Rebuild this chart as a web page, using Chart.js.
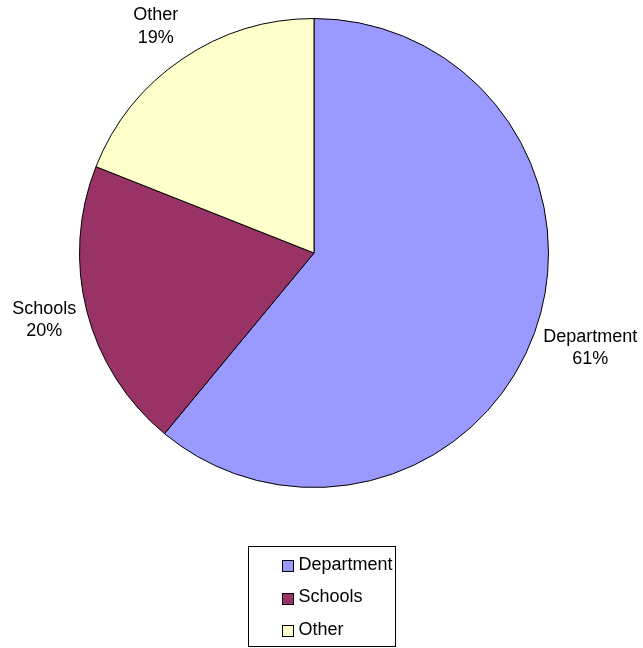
<!DOCTYPE html>
<html>
<head>
<meta charset="utf-8">
<script src="https://cdn.jsdelivr.net/npm/chart.js@4/dist/chart.umd.min.js"></script>
<style>
  html, body { margin: 0; padding: 0; background: #ffffff; }
  #wrap { width: 643px; height: 648px; }
</style>
</head>
<body>
<div id="wrap"><canvas id="c" width="643" height="648"></canvas></div>
<script>
// Share of funding by source (percent)
const categories = ['Department', 'Schools', 'Other'];
const shares = [61, 20, 19];
const sliceColors = ['#9999FF', '#993366', '#FFFFCC'];

const FONT = '"Liberation Sans", Arial, Helvetica, sans-serif';

// Small per-label nudges (px) applied after the radial placement
const labelNudge = [[0, 4], [0, 0], [-7, -4]];

// Category name + percentage drawn just outside each slice
const outsideLabels = {
  id: 'outsideLabels',
  afterDatasetsDraw(chart) {
    const ctx = chart.ctx;
    const meta = chart.getDatasetMeta(0);
    const total = shares.reduce((a, b) => a + b, 0);
    ctx.save();
    ctx.font = '18px ' + FONT;
    ctx.fillStyle = '#000';
    ctx.textAlign = 'center';
    ctx.textBaseline = 'middle';
    const lineH = 22.5;
    meta.data.forEach((arc, i) => {
      const p = arc.getProps(['x', 'y', 'startAngle', 'endAngle', 'outerRadius'], true);
      const mid = (p.startAngle + p.endAngle) / 2;
      const dx = Math.cos(mid), dy = Math.sin(mid);
      const lines = [categories[i], Math.round(shares[i] / total * 100) + '%'];
      const w = Math.max(...lines.map(t => ctx.measureText(t).width));
      const h = lines.length * lineH;
      const r = p.outerRadius + 12;
      const cx = p.x + dx * r + dx * w / 2 + labelNudge[i][0];
      const cy = p.y + dy * r + dy * h / 2 + labelNudge[i][1];
      lines.forEach((t, k) => {
        ctx.fillText(t, cx, cy - h / 2 + lineH / 2 + k * lineH);
      });
    });
    ctx.restore();
  }
};

// Boxed legend below the pie
const boxedLegend = {
  id: 'boxedLegend',
  afterDraw(chart) {
    const ctx = chart.ctx;
    const bx = 248.5, by = 546.5, bw = 147, bh = 100;
    ctx.save();
    ctx.strokeStyle = '#000';
    ctx.lineWidth = 1;
    ctx.strokeRect(bx, by, bw, bh);
    ctx.font = '18px ' + FONT;
    ctx.textBaseline = 'middle';
    ctx.textAlign = 'left';
    const rowY = [565, 597.5, 630];
    chart.data.labels.forEach((lab, i) => {
      const y = rowY[i];
      const sy = Math.round(y + 1) - 5.5;
      ctx.fillStyle = chart.data.datasets[0].backgroundColor[i];
      ctx.fillRect(282.5, sy, 11, 11);
      ctx.strokeRect(282.5, sy, 11, 11);
      ctx.fillStyle = '#000';
      ctx.fillText(lab, 298.5, y);
    });
    ctx.restore();
  }
};

new Chart(document.getElementById('c'), {
  type: 'pie',
  data: {
    labels: categories,
    datasets: [{
      data: shares,
      backgroundColor: sliceColors,
      borderColor: '#000000',
      borderWidth: 1,
      borderAlign: 'center'
    }]
  },
  options: {
    responsive: false,
    animation: false,
    events: [],
    layout: { padding: { left: 79, top: 18, right: 94, bottom: 160 } },
    plugins: {
      legend: { display: false },
      tooltip: { enabled: false },
      title: { display: false }
    }
  },
  plugins: [outsideLabels, boxedLegend]
});
</script>
</body>
</html>
